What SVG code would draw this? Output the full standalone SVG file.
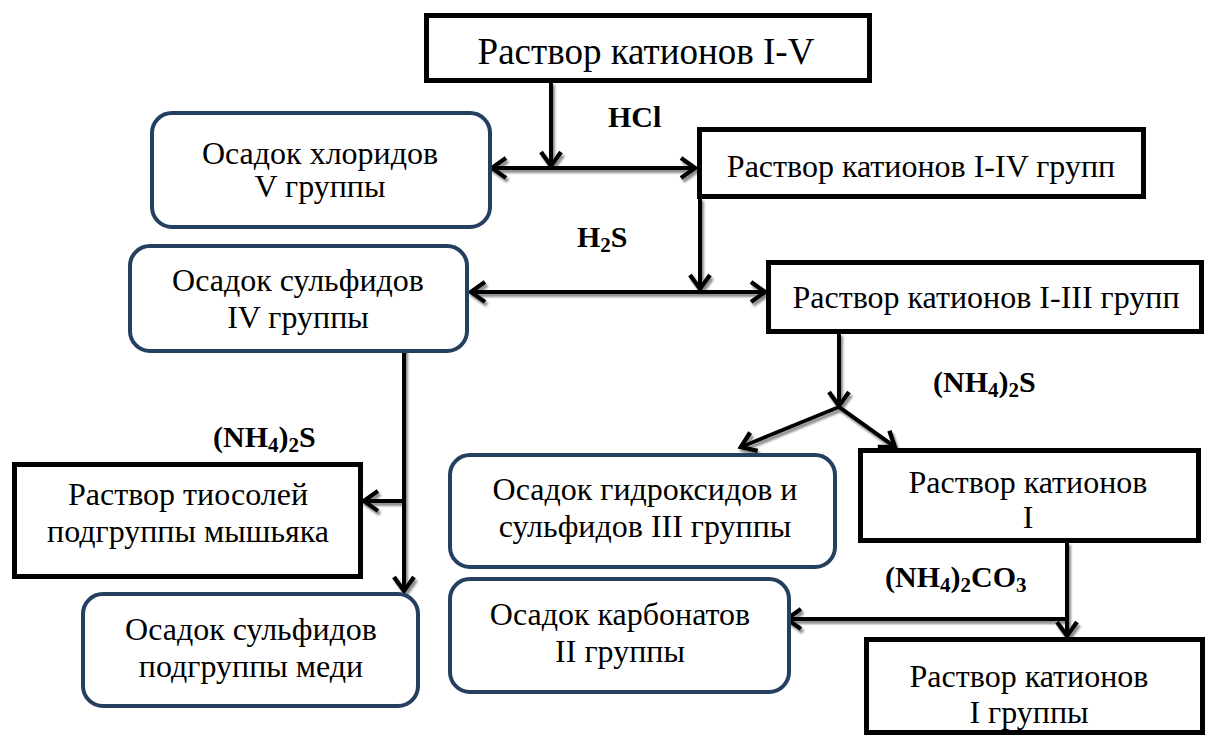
<svg xmlns="http://www.w3.org/2000/svg" width="1207" height="736" viewBox="0 0 1207 736">
<defs>
<style>
.bg{fill:#ffffff}
.sq{fill:#ffffff;stroke:#000000;stroke-width:5}
.rd{fill:#ffffff;stroke:#243F60;stroke-width:4}
.t{font-size:32px;fill:#000000;text-anchor:middle}
.tt{font-size:37px;fill:#000000;text-anchor:middle}
.lb{font-size:30px;font-weight:bold;fill:#000000}
.sub{font-size:21px}
.c{fill:none;stroke:#000000;stroke-width:4}
</style>
<marker id="ah" markerUnits="userSpaceOnUse" markerWidth="24" markerHeight="26" viewBox="0 0 24 26" refX="18" refY="13" orient="auto-start-reverse">
<path d="M4,3 L18,13 L4,23" fill="none" stroke="#000000" stroke-width="4.5"/>
</marker>
<filter id="sh" x="-10%" y="-10%" width="120%" height="130%">
<feDropShadow dx="2" dy="3" stdDeviation="0.8" flood-color="#8c8c8c" flood-opacity="1"/>
</filter>
</defs>
<rect class="bg" x="0" y="0" width="1207" height="736"/>

<g id="connectors" filter="url(#sh)">
<path class="c" d="M551,82 V166" marker-end="url(#ah)"/>
<path class="c" d="M492,168 H695" marker-start="url(#ah)" marker-end="url(#ah)"/>
<path class="c" d="M700,198 V289" marker-end="url(#ah)"/>
<path class="c" d="M471,292 H765" marker-start="url(#ah)" marker-end="url(#ah)"/>
<path class="c" d="M404,345 V591" marker-end="url(#ah)"/>
<path class="c" d="M404,501 H364" marker-end="url(#ah)"/>
<path class="c" d="M839,333 V406" marker-end="url(#ah)"/>
<path class="c" d="M839,407 L741,447" marker-end="url(#ah)"/>
<path class="c" d="M839,407 L895,447" marker-end="url(#ah)"/>
<path class="c" d="M1067,542 V636" marker-end="url(#ah)"/>
<path class="c" d="M1067,619 H787" marker-end="url(#ah)"/>
</g>

<g font-family="'Liberation Serif', 'Times New Roman', 'DejaVu Serif', serif">
<g id="labels">
<text class="lb" x="608" y="127">HCl</text>
<text class="lb" x="577" y="247">H<tspan class="sub" dy="5">2</tspan><tspan dy="-5">S</tspan></text>
<text class="lb" x="933" y="392">(NH<tspan class="sub" dy="5">4</tspan><tspan dy="-5">)</tspan><tspan class="sub" dy="5">2</tspan><tspan dy="-5">S</tspan></text>
<text class="lb" x="213" y="447">(NH<tspan class="sub" dy="5">4</tspan><tspan dy="-5">)</tspan><tspan class="sub" dy="5">2</tspan><tspan dy="-5">S</tspan></text>
<text class="lb" x="885" y="587">(NH<tspan class="sub" dy="5">4</tspan><tspan dy="-5">)</tspan><tspan class="sub" dy="5">2</tspan><tspan dy="-5">CO</tspan><tspan class="sub" dy="5">3</tspan></text>
</g>

<g id="node-solution-1-5">
<rect class="sq" x="426.5" y="15.5" width="443" height="65"/>
<text class="tt" x="646" y="64">Раствор катионов I-V</text>
</g>

<g id="node-chlorides-5">
<rect class="rd" x="152" y="113" width="338" height="114" rx="20"/>
<text class="t" x="320" y="164">Осадок хлоридов</text>
<text class="t" x="320" y="197">V группы</text>
</g>

<g id="node-solution-1-4">
<rect class="sq" x="699.5" y="129.5" width="444" height="67"/>
<text class="t" x="921" y="177">Раствор катионов I-IV групп</text>
</g>

<g id="node-sulfides-4">
<rect class="rd" x="130" y="246" width="337" height="105" rx="20"/>
<text class="t" x="298" y="291">Осадок сульфидов</text>
<text class="t" x="298" y="328">IV группы</text>
</g>

<g id="node-solution-1-3">
<rect class="sq" x="768.5" y="262.5" width="433" height="69"/>
<text class="t" x="986" y="308">Раствор катионов I-III групп</text>
</g>

<g id="node-thiosalts">
<rect class="sq" x="14.5" y="464.5" width="346" height="112"/>
<text class="t" x="188" y="505">Раствор тиосолей</text>
<text class="t" x="188" y="542">подгруппы мышьяка</text>
</g>

<g id="node-copper-sulfides">
<rect class="rd" x="83" y="594" width="335" height="112" rx="20"/>
<text class="t" x="251" y="640">Осадок сульфидов</text>
<text class="t" x="251" y="677">подгруппы меди</text>
</g>

<g id="node-hydroxides-3">
<rect class="rd" x="450" y="455" width="385" height="112" rx="20"/>
<text class="t" x="645" y="500">Осадок гидроксидов и</text>
<text class="t" x="645" y="537">сульфидов III группы</text>
</g>

<g id="node-solution-1">
<rect class="sq" x="860.5" y="450.5" width="338" height="90"/>
<text class="t" x="1028" y="493">Раствор катионов</text>
<text class="t" x="1028" y="528">I</text>
</g>

<g id="node-carbonates-2">
<rect class="rd" x="450" y="579" width="339" height="113" rx="20"/>
<text class="t" x="620" y="625">Осадок карбонатов</text>
<text class="t" x="620" y="662">II группы</text>
</g>

<g id="node-solution-group-1">
<rect class="sq" x="866.5" y="639.5" width="336" height="93"/>
<text class="t" x="1029" y="687">Раствор катионов</text>
<text class="t" x="1029" y="723">I группы</text>
</g>
</g>
</svg>
